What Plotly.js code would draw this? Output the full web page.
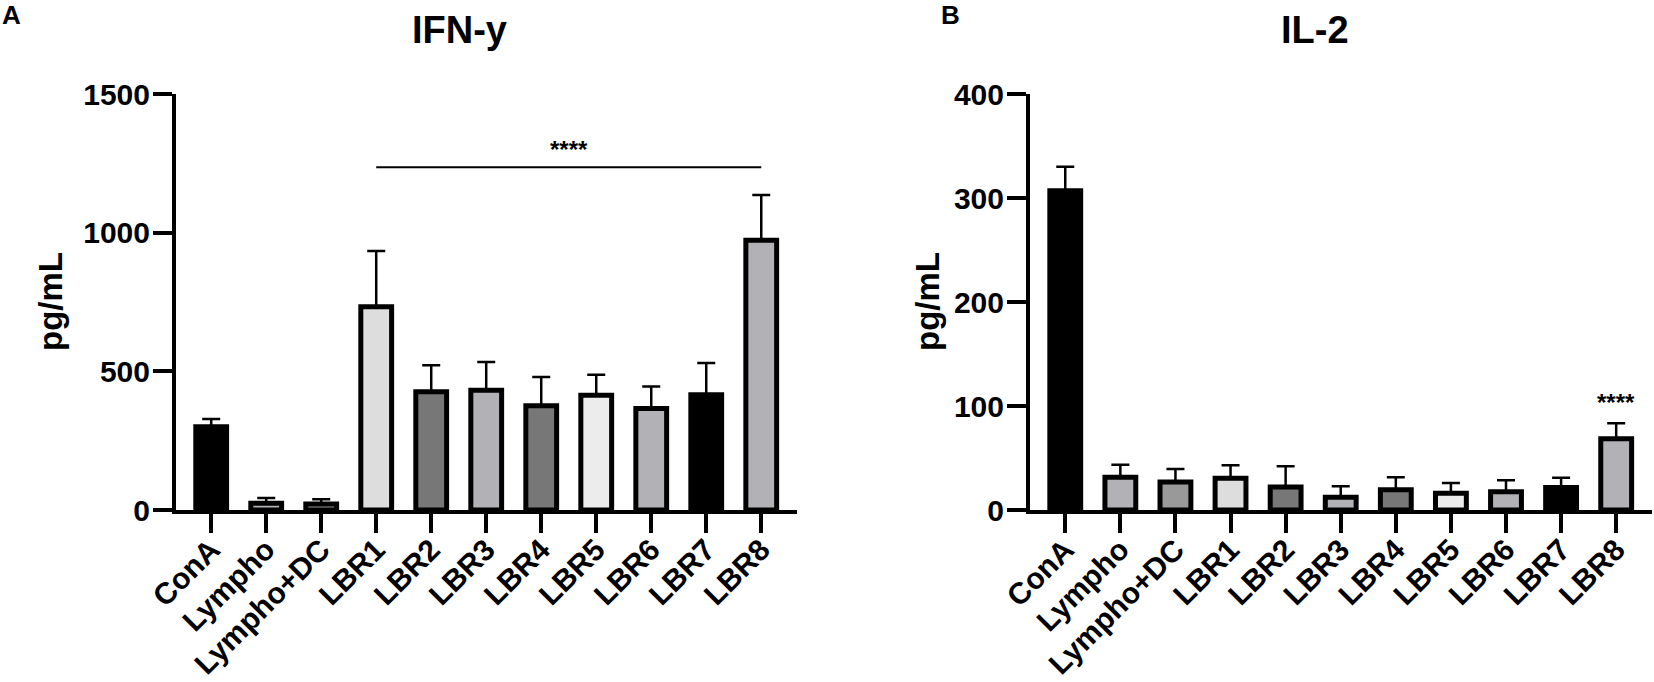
<!DOCTYPE html>
<html>
<head>
<meta charset="utf-8">
<script src="https://cdn.plot.ly/plotly-3.0.1.min.js"></script>
<style>
  html, body { margin: 0; padding: 0; background: #fff; }
  #chart { width: 1654px; height: 682px; }
</style>
</head>
<body>
<div id="chart"></div>
<script>
// ── Data ─────────────────────────────────────────────────────────────
const categories = ['ConA', 'Lympho', 'Lympho+DC', 'LBR1', 'LBR2', 'LBR3',
                    'LBR4', 'LBR5', 'LBR6', 'LBR7', 'LBR8'];

// IFN-y, pg/mL (mean and upward SD)
const ifnMean = [300, 24, 22, 733, 426, 432, 376, 414, 366, 416, 973];
const ifnSd   = [28, 19, 17, 201, 96, 102, 104, 74, 79, 114, 163];

// IL-2, pg/mL
const il2Mean = [307, 31.5, 27, 30.6, 22, 12.3, 19.4, 16.2, 17.5, 21.6, 68.4];
const il2Sd   = [23, 12, 12.4, 12.4, 20, 10.5, 12, 9.8, 11, 9.4, 15];

const barColors = ['#000000', '#b1b1b6', '#999999', '#dddddd', '#777777', '#b1b1b6',
                   '#777777', '#ececec', '#b1b1b6', '#000000', '#b1b1b6'];

const ifnTicks = [0, 500, 1000, 1500];
const il2Ticks = [0, 100, 200, 300, 400];

// ── Styling helpers ──────────────────────────────────────────────────
const FONT = 'Liberation Sans, Arial, Helvetica, sans-serif';
const W = 1654, H = 682;

function barTrace(means, sds, xaxis, yaxis) {
    return {
        type: 'bar',
        x: categories,
        y: means,
        xaxis: xaxis,
        yaxis: yaxis,
        width: 0.56,
        marker: { color: barColors, line: { color: '#000', width: 5 } },
        error_y: {
            type: 'data',
            symmetric: false,
            array: sds,
            arrayminus: sds.map(() => 0),
            color: '#000',
            thickness: 2.5,
            width: 9
        },
        hoverinfo: 'x+y',
        showlegend: false
    };
}

function xAxis(domain, anchor) {
    return {
        domain: domain,
        anchor: anchor,
        type: 'category',
        range: [-0.64, 10.65],
        showline: true, linecolor: '#000', linewidth: 4,
        ticks: 'outside', ticklen: 19, tickwidth: 4, tickcolor: '#000',
        tickangle: -45,
        ticklabelstandoff: -13,
        tickfont: { family: FONT, size: 30, color: '#000', weight: 'bold' },
        showgrid: false, zeroline: false, fixedrange: true
    };
}

function yAxis(domain, anchor, range, ticks) {
    return {
        domain: domain,
        anchor: anchor,
        range: range,
        tickmode: 'array',
        tickvals: ticks,
        ticktext: ticks.map(String),
        showline: true, linecolor: '#000', linewidth: 4,
        ticks: 'outside', ticklen: 19, tickwidth: 4, tickcolor: '#000',
        ticklabelstandoff: -3,
        tickfont: { family: FONT, size: 30, color: '#000', weight: 'bold' },
        showgrid: false, zeroline: false, fixedrange: true
    };
}

const yDom = [1 - 510 / H, 1 - 94 / H];

// Text placed by pixel centre (from top-left), anchored at its middle.
function textNote(text, px, py, size, extra) {
    return Object.assign({
        text: text, x: px / W, y: 1 - py / H,
        xref: 'paper', yref: 'paper',
        xanchor: 'center', yanchor: 'middle',
        showarrow: false,
        font: { family: FONT, size: size, color: '#000', weight: 'bold' }
    }, extra || {});
}

const layout = {
    width: W,
    height: H,
    margin: { l: 0, r: 0, t: 0, b: 0 },
    paper_bgcolor: '#fff',
    plot_bgcolor: '#fff',
    bargap: 0,
    xaxis:  xAxis([176 / W, 797 / W], 'y'),
    yaxis:  yAxis(yDom, 'x', [0, 1500], ifnTicks),
    xaxis2: xAxis([1030 / W, 1652 / W], 'y2'),
    yaxis2: yAxis(yDom, 'x2', [0, 400], il2Ticks),
    shapes: [{
        type: 'line', xref: 'x', yref: 'y',
        x0: 'LBR1', x1: 'LBR8', y0: 1236, y1: 1236,
        line: { color: '#000', width: 2 }
    }],
    annotations: [
        textNote('A', 11, 15, 26),
        textNote('B', 950, 15, 26),
        textNote('IFN-y', 460, 30, 38),
        textNote('IL-2', 1315, 30, 38),
        textNote('pg/mL', 50, 302, 33, { textangle: -90 }),
        textNote('pg/mL', 927, 302, 33, { textangle: -90 }),
        {
            text: '****', x: 6.5, y: 1300, xref: 'x', yref: 'y',
            xanchor: 'center', yanchor: 'middle', showarrow: false,
            font: { family: FONT, size: 24, color: '#000', weight: 'bold' }
        },
        {
            text: '****', x: 'LBR8', y: 103, xref: 'x2', yref: 'y2',
            xanchor: 'center', yanchor: 'middle', showarrow: false,
            font: { family: FONT, size: 24, color: '#000', weight: 'bold' }
        }
    ]
};

Plotly.newPlot('chart',
    [barTrace(ifnMean, ifnSd, 'x', 'y'), barTrace(il2Mean, il2Sd, 'x2', 'y2')],
    layout,
    { displayModeBar: false, staticPlot: true }
);
</script>
</body>
</html>
